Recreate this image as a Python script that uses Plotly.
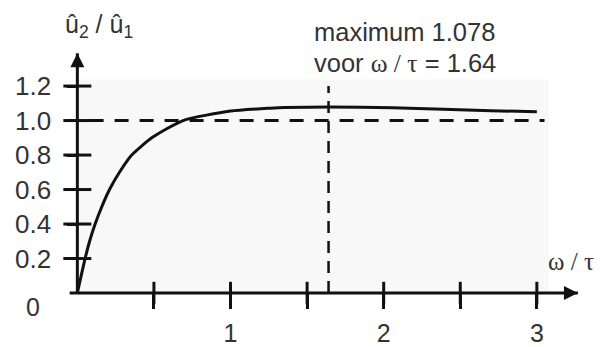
import plotly.graph_objects as go

# ---- data ----
omega_tau = [0, 0.05, 0.08, 0.116, 0.159, 0.21, 0.275, 0.355, 0.486, 0.69,
             1.0, 1.26, 1.35, 1.64, 2.06, 2.39, 2.7, 3.0]
ratio = [0, 0.198, 0.3, 0.4, 0.499, 0.6, 0.70, 0.8, 0.9, 1.0,
         1.055, 1.072, 1.076, 1.078, 1.074, 1.065, 1.057, 1.051]

y_tick_vals = [0.2, 0.4, 0.6, 0.8, 1.0, 1.2]
y_tick_text = ["0.2", "0.4", "0.6", "0.8", "1.0", "1.2"]
x_major_vals = [1, 2, 3]
x_major_text = ["1", "2", "3"]
x_minor_vals = [0.5, 1.5, 2.5]

ref_level = 1.0
ref_span = [0.08, 3.05]
max_x = 1.64
max_y = 1.078
vline_top = 1.2

x_range = [-0.505, 3.471]
y_range = [-0.284, 1.699]
x_axis_span = [-0.05, 3.268]
y_axis_span = [0, 1.39]
shade_x = [0, 3.08]
shade_y = [0, 1.24]

INK = "#111111"
TXT = "#333333"
SANS = "Liberation Sans, Arial, sans-serif"
SERIF = "Liberation Serif, Times New Roman, serif"

fig = go.Figure()

# faint grey plotting area
fig.add_shape(type="rect", xref="x", yref="y", x0=shade_x[0], x1=shade_x[1],
              y0=shade_y[0], y1=shade_y[1], fillcolor="#f8f8f8",
              line=dict(width=0), layer="below")

# reference dashed lines
fig.add_trace(go.Scatter(x=ref_span, y=[ref_level, ref_level], mode="lines",
                         line=dict(color=INK, width=3, dash="14px,11px")))
fig.add_trace(go.Scatter(x=[max_x, max_x], y=[0, vline_top], mode="lines",
                         line=dict(color=INK, width=2.5, dash="12px,8px")))

# response curve
fig.add_trace(go.Scatter(x=omega_tau, y=ratio, mode="lines",
                         line=dict(color=INK, width=3, shape="spline", smoothing=0.6)))

# axes lines
fig.add_trace(go.Scatter(x=x_axis_span, y=[0, 0], mode="lines",
                         line=dict(color=INK, width=3)))
fig.add_trace(go.Scatter(x=[0, 0], y=y_axis_span, mode="lines",
                         line=dict(color=INK, width=3)))

# crossing tick parts
fig.add_trace(go.Scatter(x=x_major_vals + x_minor_vals, y=[0] * 6, mode="markers",
                         marker=dict(symbol="line-ns", size=16,
                                     line=dict(color=INK, width=3))))
fig.add_trace(go.Scatter(x=[0] * len(y_tick_vals), y=y_tick_vals, mode="markers",
                         marker=dict(symbol="line-ew", size=20,
                                     line=dict(color=INK, width=3))))

# arrow heads
fig.add_trace(go.Scatter(x=[0], y=[y_axis_span[1]], mode="markers",
                         marker=dict(symbol="arrow-up", size=14, color=INK,
                                     line=dict(width=0))))
fig.add_trace(go.Scatter(x=[x_axis_span[1]], y=[0], mode="markers",
                         marker=dict(symbol="arrow-right", size=14, color=INK,
                                     line=dict(width=0))))

xpos = (0 - y_range[0]) / (y_range[1] - y_range[0])
ypos = (0 - x_range[0]) / (x_range[1] - x_range[0])

fig.update_layout(
    width=609, height=347,
    margin=dict(l=0, r=0, t=0, b=0),
    paper_bgcolor="white", plot_bgcolor="white",
    showlegend=False, hovermode=False,
    font=dict(family=SANS, color=TXT, size=24),
    xaxis=dict(range=x_range, domain=[0, 1], anchor="free", position=xpos,
               showline=False, showgrid=False, zeroline=False,
               tickmode="array", tickvals=x_major_vals, ticktext=x_major_text,
               ticks="outside", ticklen=15, tickwidth=3, tickcolor=INK,
               ticklabelstandoff=3,
               tickfont=dict(size=25, color=TXT, family=SANS),
               minor=dict(tickmode="array", tickvals=x_minor_vals, ticks="outside",
                          ticklen=15, tickwidth=3, tickcolor=INK, showgrid=False)),
    yaxis=dict(range=y_range, domain=[0, 1], anchor="free", position=ypos,
               showline=False, showgrid=False, zeroline=False,
               tickmode="array", tickvals=y_tick_vals, ticktext=y_tick_text,
               ticks="outside", ticklen=10, tickwidth=3, tickcolor=INK,
               ticklabelstandoff=11,
               tickfont=dict(size=26, color=TXT, family=SANS)),
)

# texts
fig.add_annotation(x=0.142, y=1.55, xref="x", yref="y", showarrow=False,
                   text="û<sub>2</sub> / û<sub>1</sub>",
                   font=dict(size=25, color=TXT, family=SANS),
                   xanchor="center", yanchor="middle")
fig.add_annotation(x=-0.289, y=-0.081, xref="x", yref="y", showarrow=False,
                   text="0", font=dict(size=25, color=TXT, family=SANS),
                   xanchor="center", yanchor="middle")
fig.add_annotation(x=1.53, y=1.516, xref="x", yref="y", showarrow=False,
                   text=f"maximum {max_y:.3f}",
                   font=dict(size=25.5, color=TXT, family=SANS),
                   xanchor="left", yanchor="middle")
fig.add_annotation(x=1.53, y=1.333, xref="x", yref="y", showarrow=False,
                   text=f"voor <span style='font-family:{SERIF}'>ω / τ</span> = {max_x:.2f}",
                   font=dict(size=25.5, color=TXT, family=SANS),
                   xanchor="left", yanchor="middle")
fig.add_annotation(x=3.222, y=0.185, xref="x", yref="y", showarrow=False,
                   text="ω / τ", font=dict(size=25, color=TXT, family=SERIF),
                   xanchor="center", yanchor="middle")

fig.write_html("out.html")
